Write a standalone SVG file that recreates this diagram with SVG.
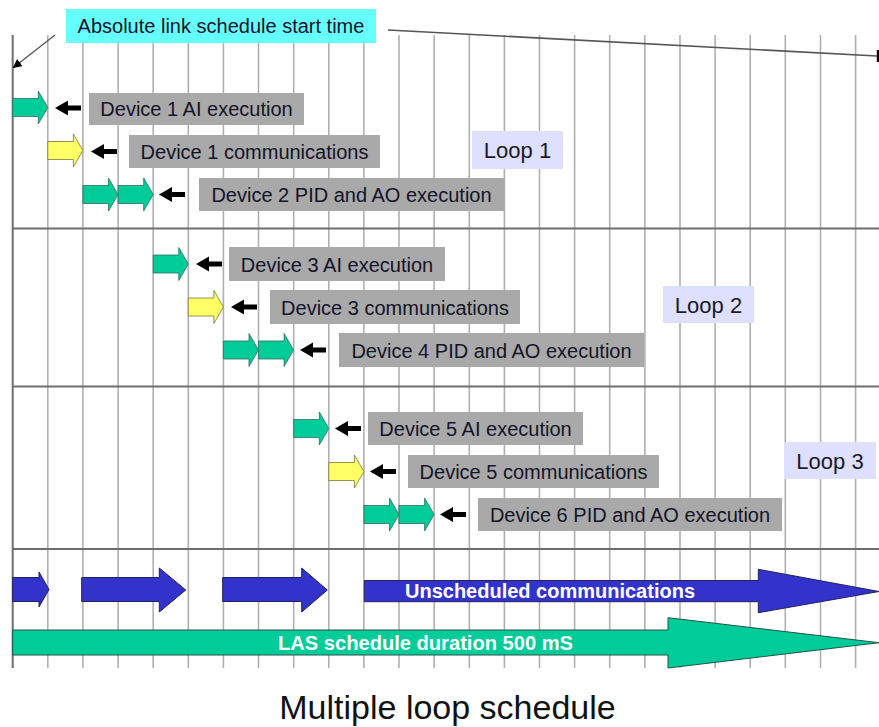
<svg xmlns="http://www.w3.org/2000/svg" xmlns:xlink="http://www.w3.org/1999/xlink" width="879" height="727" viewBox="0 0 879 727">
  <style>
    text { font-family: "Liberation Sans", Arial, sans-serif; }
    .grid { stroke: #b0b0b0; stroke-width: 1.6; }
    .rule { stroke: #6e6e6e; stroke-width: 2; }
    .lbl { fill: #a9a9a9; }
    .lbltxt { font-size: 20px; fill: #141428; text-anchor: middle; }
    .loop { fill: #dfe0ff; }
    .looptxt { font-size: 22px; fill: #1a1a2a; text-anchor: middle; }
    .exec { fill: #00cc99; stroke: #2f6f5a; stroke-width: 0.8; }
    .comm { fill: #ffff66; stroke: #7a7a3a; stroke-width: 0.8; }
    .ptr { fill: #000000; }
    .blue { fill: #3333cc; stroke: #22225a; stroke-width: 1; }
    .las { fill: #00cc99; stroke: #22554a; stroke-width: 1; }
    .bartxt { font-size: 20px; font-weight: bold; fill: #ffffff; text-anchor: middle; }
  </style>
  <defs>
    <!-- one time slot wide block arrow, centred vertically on y=0 -->
    <path id="slot" d="M0,-9 H25.6 V-16.5 L35.1,0 L25.6,16.5 V9 H0 Z"/>
    <!-- small black pointer, tip at origin -->
    <path id="pointer" d="M0,0 L13,-7.5 L13,-2.4 L26,-2.4 L26,2.4 L13,2.4 L13,7.5 Z"/>
    <marker id="head" viewBox="0 0 10 10" refX="9" refY="5" markerWidth="9" markerHeight="9" orient="auto" markerUnits="userSpaceOnUse">
      <path d="M0,0 L10,5 L0,10 Z" fill="#000"/>
    </marker>
  </defs>

  <rect width="879" height="727" fill="#ffffff"/>

  <!-- time grid -->
  <g id="grid">
    <g class="grid">
      <line x1="47.8" y1="35" x2="47.8" y2="668"/>
      <line x1="82.9" y1="35" x2="82.9" y2="668"/>
      <line x1="118.1" y1="35" x2="118.1" y2="668"/>
      <line x1="153.2" y1="35" x2="153.2" y2="668"/>
      <line x1="188.3" y1="35" x2="188.3" y2="668"/>
      <line x1="223.4" y1="35" x2="223.4" y2="668"/>
      <line x1="258.5" y1="35" x2="258.5" y2="668"/>
      <line x1="293.7" y1="35" x2="293.7" y2="668"/>
      <line x1="328.8" y1="35" x2="328.8" y2="668"/>
      <line x1="363.9" y1="35" x2="363.9" y2="668"/>
      <line x1="399.0" y1="35" x2="399.0" y2="668"/>
      <line x1="434.1" y1="35" x2="434.1" y2="668"/>
      <line x1="469.3" y1="35" x2="469.3" y2="668"/>
      <line x1="504.4" y1="35" x2="504.4" y2="668"/>
      <line x1="539.5" y1="35" x2="539.5" y2="668"/>
      <line x1="574.6" y1="35" x2="574.6" y2="668"/>
      <line x1="609.7" y1="35" x2="609.7" y2="668"/>
      <line x1="644.9" y1="35" x2="644.9" y2="668"/>
      <line x1="680.0" y1="35" x2="680.0" y2="668"/>
      <line x1="715.1" y1="35" x2="715.1" y2="668"/>
      <line x1="750.2" y1="35" x2="750.2" y2="668"/>
      <line x1="785.3" y1="35" x2="785.3" y2="668"/>
      <line x1="820.5" y1="35" x2="820.5" y2="668"/>
      <line x1="855.6" y1="35" x2="855.6" y2="668"/>
    </g>
    <g class="rule">
      <line x1="12.7" y1="35" x2="12.7" y2="668"/>
      <line x1="12" y1="228.5" x2="879" y2="228.5"/>
      <line x1="12" y1="386.5" x2="879" y2="386.5"/>
      <line x1="12" y1="549" x2="879" y2="549"/>
    </g>
  </g>

  <!-- pointers and the start time line -->
  <g id="connectors">
    <line x1="55" y1="35" x2="13.5" y2="67.5" stroke="#555" stroke-width="1.3" marker-end="url(#head)"/>
    <line x1="388" y1="30" x2="877" y2="56" stroke="#555" stroke-width="1.6"/>
    <line x1="878" y1="50" x2="878" y2="62" stroke="#000" stroke-width="2.4"/>
    <use href="#pointer" class="ptr" x="55" y="108"/>
    <use href="#pointer" class="ptr" x="91" y="151.5"/>
    <use href="#pointer" class="ptr" x="159" y="194.5"/>
    <use href="#pointer" class="ptr" x="196" y="264"/>
    <use href="#pointer" class="ptr" x="231" y="307"/>
    <use href="#pointer" class="ptr" x="300" y="350"/>
    <use href="#pointer" class="ptr" x="335" y="428.5"/>
    <use href="#pointer" class="ptr" x="370" y="471.5"/>
    <use href="#pointer" class="ptr" x="440" y="514.5"/>
  </g>

  <g id="start-time">
    <rect x="66" y="9" width="310" height="34" fill="#66ffff"/>
    <text x="221" y="33" font-size="20" fill="#141428" text-anchor="middle">Absolute link schedule start time</text>
  </g>

  <!-- loop 1 -->
  <g id="dev1-ai">
    <use href="#slot" class="exec" x="12.7" y="107.5"/>
    <rect class="lbl" x="89" y="93" width="215" height="32"/>
    <text class="lbltxt" x="196.5" y="116">Device 1 AI execution</text>
  </g>
  <g id="dev1-comm">
    <use href="#slot" class="comm" x="47.8" y="150.5"/>
    <rect class="lbl" x="129" y="135" width="251" height="33"/>
    <text class="lbltxt" x="254.5" y="158.5">Device 1 communications</text>
  </g>
  <g id="dev2-pid-ao">
    <use href="#slot" class="exec" x="82.9" y="194.5"/>
    <use href="#slot" class="exec" x="118.1" y="194.5"/>
    <rect class="lbl" x="199" y="178" width="305" height="33"/>
    <text class="lbltxt" x="351.5" y="201.5">Device 2 PID and AO execution</text>
  </g>
  <g id="loop1">
    <rect class="loop" x="472" y="131" width="91" height="38"/>
    <text class="looptxt" x="517.5" y="158">Loop 1</text>
  </g>

  <!-- loop 2 -->
  <g id="dev3-ai">
    <use href="#slot" class="exec" x="153.2" y="264"/>
    <rect class="lbl" x="229" y="247" width="216" height="34"/>
    <text class="lbltxt" x="337" y="271.5">Device 3 AI execution</text>
  </g>
  <g id="dev3-comm">
    <use href="#slot" class="comm" x="188.3" y="307"/>
    <rect class="lbl" x="270" y="290" width="250" height="34"/>
    <text class="lbltxt" x="395" y="314.5">Device 3 communications</text>
  </g>
  <g id="dev4-pid-ao">
    <use href="#slot" class="exec" x="223.4" y="350"/>
    <use href="#slot" class="exec" x="258.5" y="350"/>
    <rect class="lbl" x="339" y="333" width="305" height="34"/>
    <text class="lbltxt" x="491.5" y="357.5">Device 4 PID and AO execution</text>
  </g>
  <g id="loop2">
    <rect class="loop" x="663" y="286" width="91" height="37"/>
    <text class="looptxt" x="708.5" y="312.5">Loop 2</text>
  </g>

  <!-- loop 3 -->
  <g id="dev5-ai">
    <use href="#slot" class="exec" x="293.7" y="428.5"/>
    <rect class="lbl" x="368" y="412" width="215" height="33"/>
    <text class="lbltxt" x="475.5" y="435.5">Device 5 AI execution</text>
  </g>
  <g id="dev5-comm">
    <use href="#slot" class="comm" x="328.8" y="471.5"/>
    <rect class="lbl" x="408" y="455" width="251" height="33"/>
    <text class="lbltxt" x="533.5" y="478.5">Device 5 communications</text>
  </g>
  <g id="dev6-pid-ao">
    <use href="#slot" class="exec" x="363.9" y="514.5"/>
    <use href="#slot" class="exec" x="399.0" y="514.5"/>
    <rect class="lbl" x="478" y="498" width="304" height="33"/>
    <text class="lbltxt" x="630" y="521.5">Device 6 PID and AO execution</text>
  </g>
  <g id="loop3">
    <rect class="loop" x="784" y="442" width="92" height="37"/>
    <text class="looptxt" x="830" y="468.5">Loop 3</text>
  </g>

  <!-- unscheduled traffic -->
  <g id="unscheduled">
    <path class="blue" d="M12.7,577.5 H39 V572 L49,589.5 L39,607 V601.5 H12.7 Z"/>
    <path class="blue" d="M81.7,577.5 H159.3 V568 L185.7,590 L159.3,612 V601.5 H81.7 Z"/>
    <path class="blue" d="M222.7,577.5 H301.7 V568 L327.3,590 L301.7,612 V601.5 H222.7 Z"/>
    <path class="blue" d="M364.3,580.5 H758.3 V569.3 L879,591.5 L758.3,612.7 V601.7 H364.3 Z"/>
    <text class="bartxt" x="550" y="598">Unscheduled communications</text>
  </g>

  <!-- macrocycle -->
  <g id="las-duration">
    <path class="las" d="M12.7,630 H668 V617.7 L879,642.7 L668,668 V655 H12.7 Z"/>
    <text class="bartxt" x="425.5" y="650" font-size="19" textLength="295" lengthAdjust="spacingAndGlyphs">LAS schedule duration 500 mS</text>
  </g>

  <text x="447.5" y="718.5" font-size="34" fill="#111" text-anchor="middle">Multiple loop schedule</text>
</svg>
